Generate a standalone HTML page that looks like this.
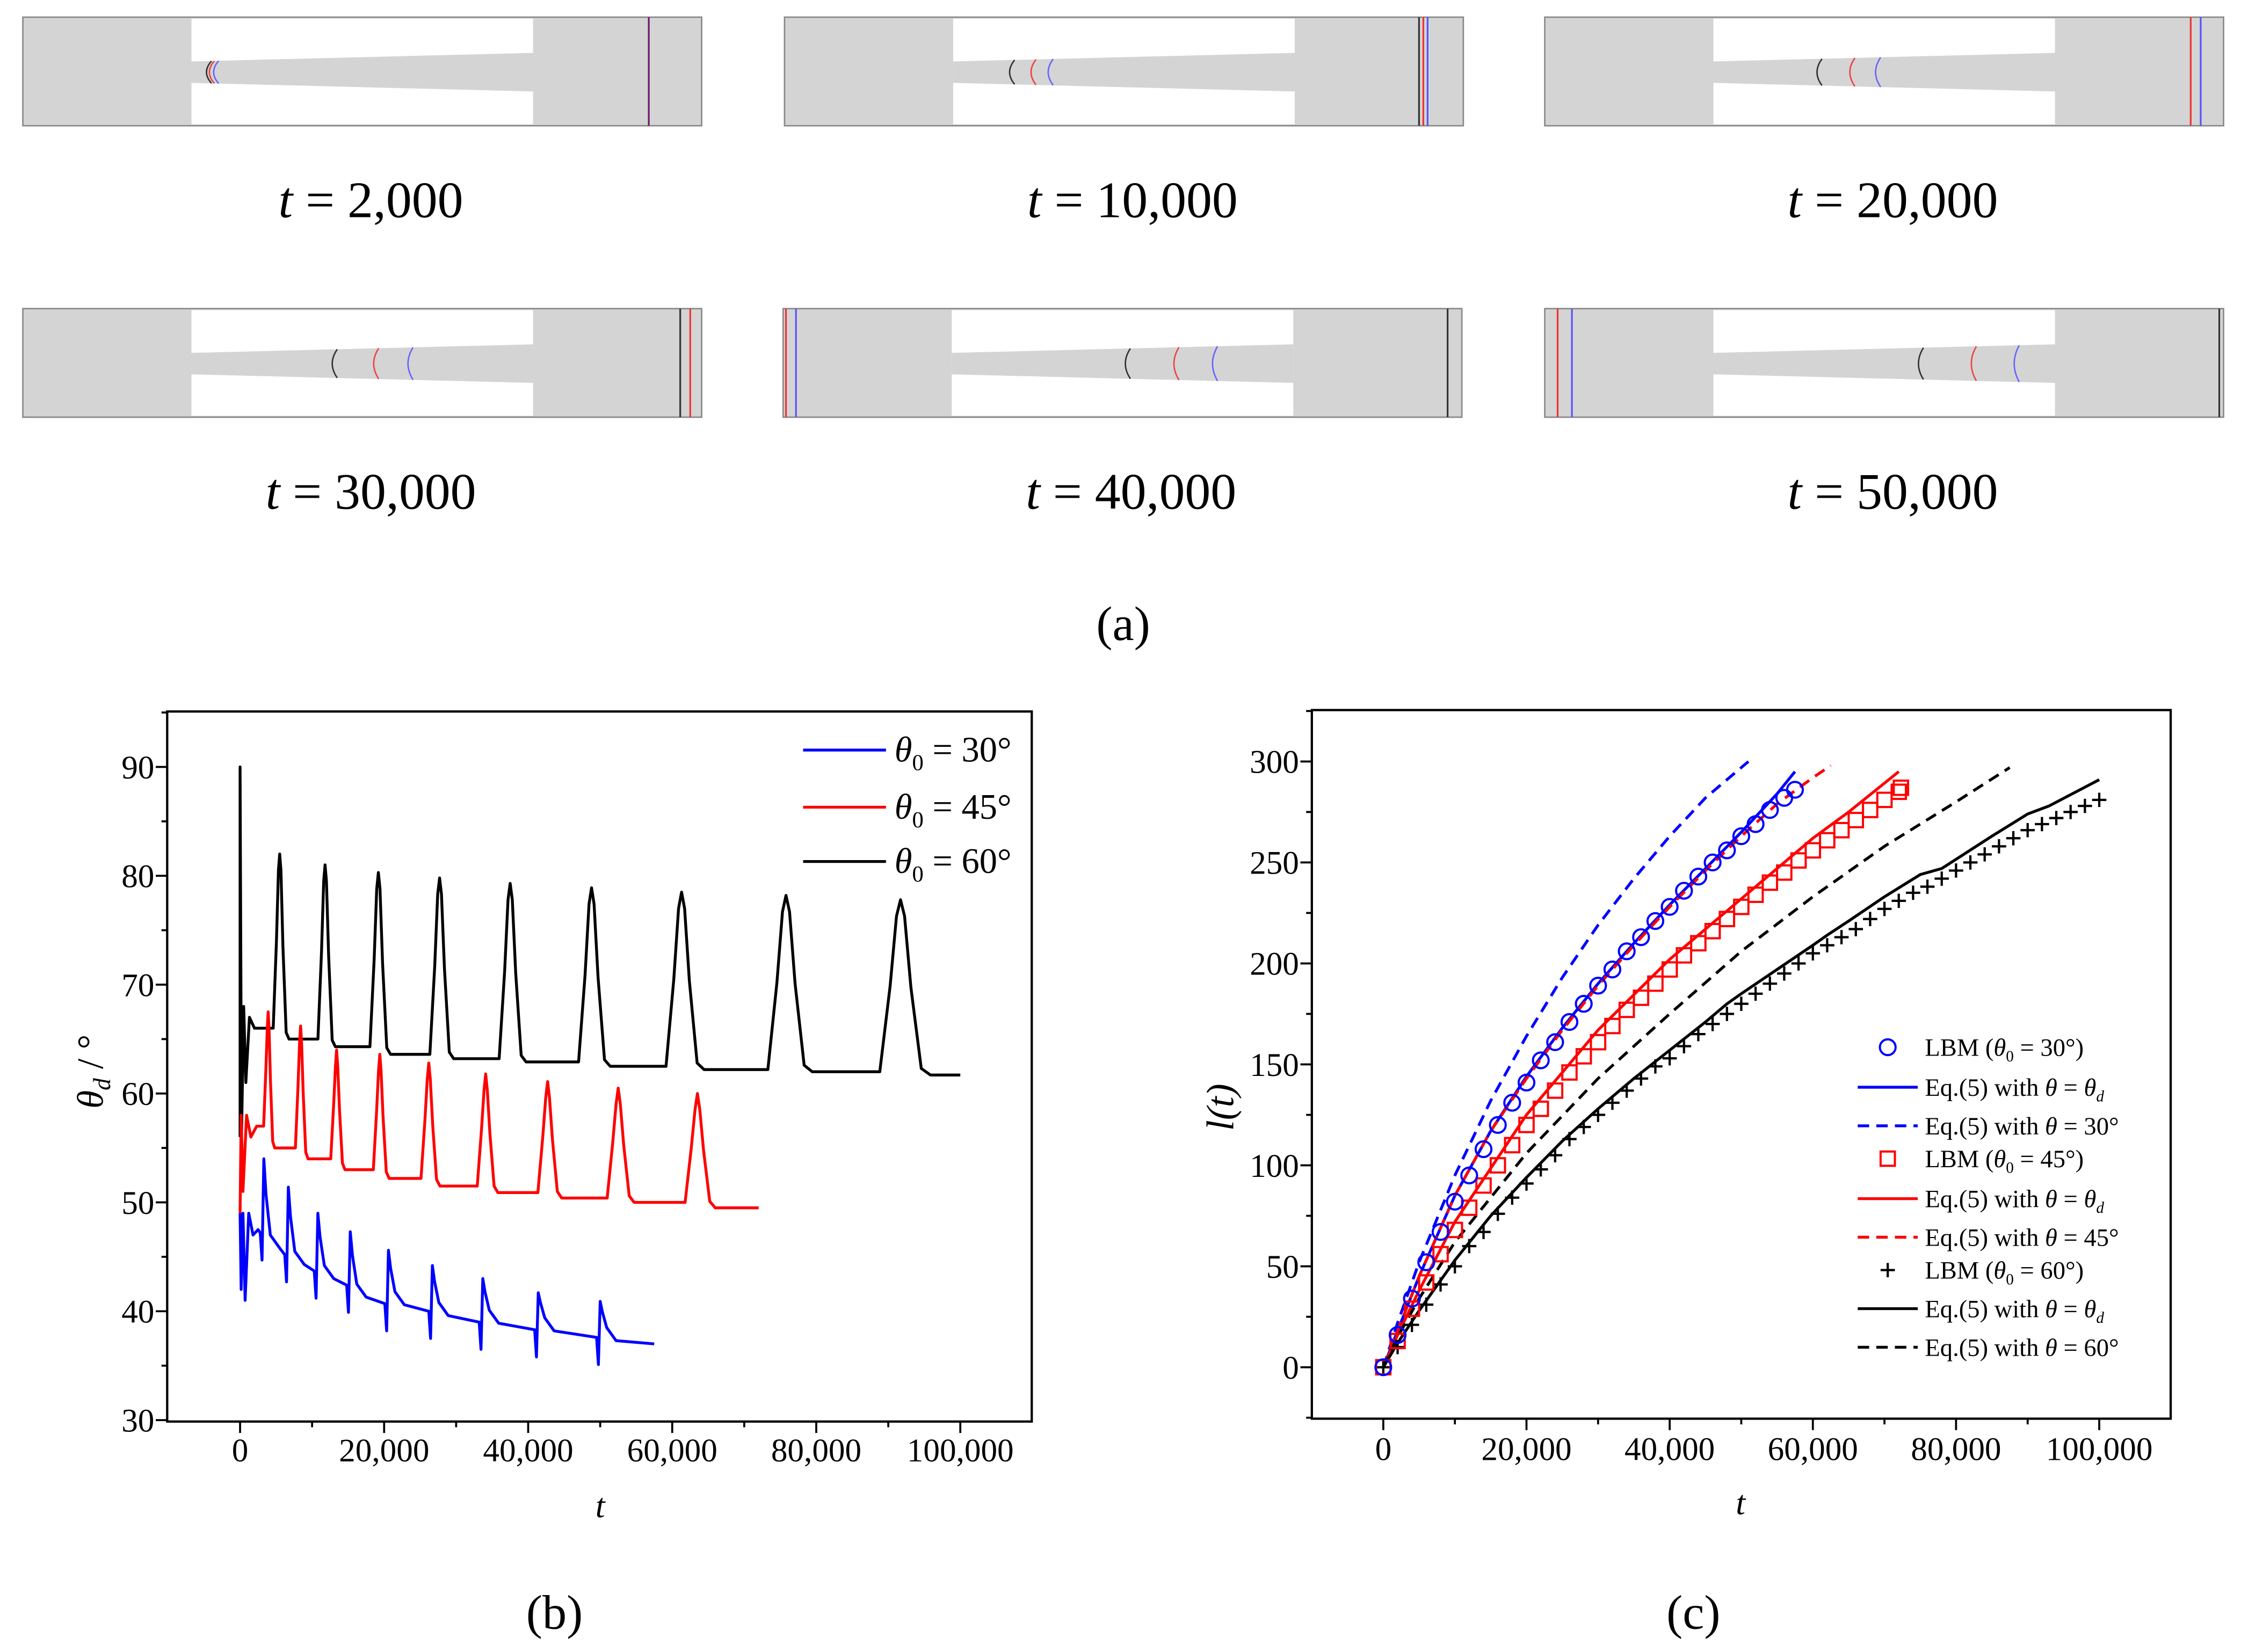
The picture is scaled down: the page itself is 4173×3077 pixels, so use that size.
<!DOCTYPE html>
<html><head><meta charset="utf-8"><style>
html,body{margin:0;padding:0;background:#fff;}
svg{display:block;font-family:"Liberation Serif",serif;}
</style></head><body>
<svg id="fig" width="4173" height="3077" viewBox="0 0 1568.2 1156.3" xmlns="http://www.w3.org/2000/svg">
<g id="panelA"></g>
<text x="786" y="448" font-size="34" text-anchor="middle">(a)</text>
<g id="chartB"></g>
<g id="chartC"></g>
</svg>
<script>
const NS="http://www.w3.org/2000/svg";
function mk(tag,attrs,parent,txt){const e=document.createElementNS(NS,tag);for(const k in attrs)e.setAttribute(k,attrs[k]);if(txt!==undefined)e.textContent=txt;parent.appendChild(e);return e;}

// ---------- Panel (a) data ----------
const snapTimes=["2,000","10,000","20,000","30,000","40,000","50,000"];
const snapBoxX=[16,549,1081,16,548,1081];
const snapBoxY=[12,12,12,216,216,216];
const arcBlack=[145,707,1272,233,788,1343];
const arcRed=[147,722,1295,262,822,1380];
const arcBlue=[150,734,1313,286,849,1410];
const lineSpecs=[[[454,"#6a1a6a"]],[[993,"#333"],[996,"#e33"],[999,"#55f"]],[[1533,"#e33"],[1540,"#55f"]],[[476,"#333"],[483,"#e33"]],[[550,"#e33"],[557,"#55f"],[1013,"#333"]],[[1090,"#e33"],[1100,"#55f"],[1553,"#333"]]];
const A=document.getElementById('panelA');
snapTimes.forEach((lab,i)=>{
  const x=snapBoxX[i],y=snapBoxY[i],W=475,H=76;
  const g=mk('g',{},A);
  
  
  mk('rect',{x:x,y:y,width:W,height:H,fill:'#d4d4d4',stroke:'#888','stroke-width':1},g);
  mk('rect',{x:x+118,y:y+1,width:239,height:H-2,fill:'#fff'},g);
  mk('polygon',{points:`${x+118},${y+31} ${x+357},${y+25} ${x+357},${y+52} ${x+118},${y+46}`,fill:'#d4d4d4'},g);
  const frac=(ax)=>{const r=(ax-x-118)/239;return [31-6*r,46+6*r];};
  [[arcBlack[i],'#333'],[arcRed[i],'#e44'],[arcBlue[i],'#66f']].forEach(([ax,c])=>{
    const [t,b]=frac(ax);mk('path',{d:`M${ax+3},${y+t} Q${ax-4},${y+(t+b)/2} ${ax+3},${y+b}`,fill:'none',stroke:c,'stroke-width':1},g);
  });
  lineSpecs[i].forEach(([lx,c])=>mk('line',{x1:lx,y1:y,x2:lx,y2:y+H,stroke:c,'stroke-width':1.2},g));
  const t=mk('text',{x:x+W/2+6,y:y+140,'font-size':36,'text-anchor':'middle'},g);
  
  
  mk('tspan',{'font-style':'italic'},t,'t');mk('tspan',{},t,' = '+lab);
});

// ---------- Chart (b) data ----------
const bXTicks=[0,20000,40000,60000,80000,100000];
const bXTickLabels=["0","20,000","40,000","60,000","80,000","100,000"];
const bYTicks=[30,40,50,60,70,80,90];
const blackSpikeT=[5500,11800,19200,27700,37500,48800,61300,75800,91700];
const blackSpikePeak=[82,81,80.3,79.8,79.3,78.9,78.5,78.2,77.8];
const blackSpikeW=[500,550,650,750,850,1000,1200,1400,1600];
const blackBase=[66,65,64.3,63.6,63.2,62.9,62.5,62.2,62.0];
const blackEnd=[100000,61.7];
const blackStart=[[0,56],[0,90],[200,56],[500,68],[800,61],[1300,67],[2000,66]];
const redSpikeT=[3900,8400,13400,19400,26200,34100,42700,52500,63500];
const redSpikePeak=[67.5,66.2,64,63.6,62.8,61.8,61.1,60.5,60];
const redSpikeW=[350,400,450,500,600,650,750,850,950];
const redBase=[57,55,54,53,52.2,51.5,50.9,50.4,50.0];
const redEnd=[72000,49.5];
const redStart=[[0,49],[150,58],[400,51],[900,58],[1500,56],[2300,57]];
const blueSpikeT=[3300,6700,10800,15300,20600,26700,33700,41400,50000];
const blueSpikePeak=[54,51.4,49,47.3,45.6,44.2,43,41.7,40.9];
const blueBase=[47.5,45.5,44,42.7,41,40.3,39.3,38.6,37.9];
const blueEnd=[57500,37];
const blueStart=[[0,49],[150,42],[400,49],[700,41],[1200,49],[1800,47],[2500,47.5]];

const xb=t=>168+t/20000*100.8, yb=v=>994-(v-30)*7.62;
const B=document.getElementById('chartB');
mk('rect',{x:117,y:498,width:605,height:497,fill:'none',stroke:'#000','stroke-width':1.6},B);
for(let t=0;t<=100000;t+=10000){const maj=t%20000===0;mk('line',{x1:xb(t),y1:995,x2:xb(t),y2:995+(maj?8:4),stroke:'#000','stroke-width':1.4},B);}
bXTicks.forEach((t,i)=>{const e=mk('text',{x:xb(t),y:1023,'font-size':23,'text-anchor':'middle'},B,bXTickLabels[i]);});
for(let v=30;v<=95;v+=5){const maj=v%10===0;mk('line',{x1:117,y1:yb(v),x2:117-(maj?8:4),y2:yb(v),stroke:'#000','stroke-width':1.4},B);}
bYTicks.forEach(v=>{const e=mk('text',{x:108,y:yb(v)+8,'font-size':23,'text-anchor':'end'},B,String(v));});
let e=mk('text',{x:420,y:1062,'font-size':24,'font-style':'italic','text-anchor':'middle'},B,'t');

e=mk('text',{transform:'translate(72,750) rotate(-90)','font-size':26,'text-anchor':'middle'},B);

mk('tspan',{'font-style':'italic'},e,'θ');mk('tspan',{'font-style':'italic','font-size':17,dy:5},e,'d');mk('tspan',{dy:-5},e,' / °');
e=mk('text',{x:388,y:1140,'font-size':34,'text-anchor':'middle'},B,'(b)');


function symPath(start,T,P,W,Base,end){
  const pts=start.slice();
  for(let i=0;i<T.length;i++){
    const nb=i+1<Base.length?Base[i+1]:end[1];
    pts.push([T[i]-W[i]*1.8,Base[i]]);pts.push([T[i]-W[i]*0.9,(Base[i]+P[i])/2]);pts.push([T[i]-W[i]*0.35,P[i]-1.5]);pts.push([T[i],P[i]]);
    pts.push([T[i]+W[i]*0.35,P[i]-1.5]);pts.push([T[i]+W[i]*0.9,(nb+P[i])/2]);pts.push([T[i]+W[i]*1.8,nb+0.6]);pts.push([T[i]+W[i]*2.6,nb]);
  }
  pts.push(end);
  return pts;
}
function bluePath(){
  const pts=blueStart.slice();
  for(let i=0;i<blueSpikeT.length;i++){
    const t=blueSpikeT[i],nb=i+1<blueBase.length?blueBase[i+1]:blueEnd[1];
    pts.push([t-500,blueBase[i]-0.3]);pts.push([t-250,blueBase[i]-2.8]);pts.push([t,blueSpikePeak[i]]);
    pts.push([t+300,(blueSpikePeak[i]+nb)/2+1]);pts.push([t+900,nb+1.5]);pts.push([t+2200,nb+0.3]);
  }
  pts.push(blueEnd);return pts;
}
const bSeries=[
  ['series-theta0-60','#000',symPath(blackStart,blackSpikeT,blackSpikePeak,blackSpikeW,blackBase,blackEnd)],
  ['series-theta0-45','#f00',symPath(redStart,redSpikeT,redSpikePeak,redSpikeW,redBase,redEnd)],
  ['series-theta0-30','#00f',bluePath()]];
bSeries.forEach(([nm,c,pts])=>{
  const p=mk('path',{d:'M'+pts.map(q=>xb(q[0]).toFixed(2)+','+yb(q[1]).toFixed(2)).join(' L'),fill:'none',stroke:c,'stroke-width':2,'stroke-linejoin':'round'},B);
  
});
const bLegLabels=["30°","45°","60°"],bLegColors=['#00f','#f00','#000'],bLegY=[525,565,603];
bLegLabels.forEach((l,i)=>{
  const g=mk('g',{},B);
  mk('line',{x1:562,y1:bLegY[i],x2:620,y2:bLegY[i],stroke:bLegColors[i],'stroke-width':2},g);
  const t=mk('text',{x:626,y:bLegY[i]+8,'font-size':25},g);
  mk('tspan',{'font-style':'italic'},t,'θ');mk('tspan',{'font-size':16,dy:6},t,'0');mk('tspan',{dy:-6},t,' = '+l);
});

// ---------- Chart (c) data ----------
const cXTicks=[0,20000,40000,60000,80000,100000];
const cXTickLabels=["0","20,000","40,000","60,000","80,000","100,000"];
const cYTicks=[0,50,100,150,200,250,300];
const lbm30T=[0,2000,4000,6000,8000,10000,12000,14000,16000,18000,20000,22000,24000,26000,28000,30000,32000,34000,36000,38000,40000,42000,44000,46000,48000,50000,52000,54000,56000,57500];
const lbm30L=[0,16,34,52,67,82,95,108,120,131,141,152,161,171,180,189,197,206,213,221,228,236,243,250,256,263,269,276,282,286];
const eq30dT=[0,2000,5000,10000,15000,20000,25000,30000,35000,40000,45000,50000,55000,57500];
const eq30dL=[0,18,45,85,117,144,168,190,210,229,247,265,284,295];
const eq30T=[0,2000,5000,10000,15000,20000,25000,30000,35000,40000,45000,51000];
const eq30L=[0,22,52,95,132,164,193,219,242,263,282,300];
const lbm45T=[0,2000,4000,6000,8000,10000,12000,14000,16000,18000,20000,22000,24000,26000,28000,30000,32000,34000,36000,38000,40000,42000,44000,46000,48000,50000,52000,54000,56000,58000,60000,62000,64000,66000,68000,70000,72000,72300];
const lbm45L=[0,13,29,42,56,68,79,90,100,110,120,128,137,146,154,161,169,177,183,190,197,204,210,216,222,228,234,240,245,251,256,261,266,271,276,281,285,287];
const eq45dT=[0,2000,5000,10000,20000,30000,40000,50000,60000,65000,72000];
const eq45dL=[0,16,38,72,125,167,202,232,262,275,295];
const eq45T=[0,2000,5000,10000,15000,20000,25000,30000,35000,40000,45000,50000,55000,60000,62500];
const eq45L=[0,18,45,85,117,143,167,189,209,228,246,263,279,292,298];
const lbm60T=[0,2000,4000,6000,8000,10000,12000,14000,16000,18000,20000,22000,24000,26000,28000,30000,32000,34000,36000,38000,40000,42000,44000,46000,48000,50000,52000,54000,56000,58000,60000,62000,64000,66000,68000,70000,72000,74000,76000,78000,80000,82000,84000,86000,88000,90000,92000,94000,96000,98000,100000];
const lbm60L=[0,10,21,31,41,50,60,67,76,84,91,98,105,113,119,125,131,137,143,149,153,159,165,170,175,180,185,190,195,200,205,209,213,217,222,227,231,235,238,242,246,250,254,258,262,266,269,272,275,278,281];
const eq60dT=[0,2000,5000,10000,15000,20000,25000,30000,35000,40000,45000,48000,50000,55000,60000,62000,65000,70000,75000,78000,85000,90000,93000,100000];
const eq60dL=[0,12,28,53,75,94,112,128,143,157,171,180,185,197,209,214,221,233,244,247,263,274,278,291];
const eq60T=[0,2000,5000,10000,20000,30000,40000,50000,60000,70000,80000,87500];
const eq60L=[0,15,34,62,106,143,175,206,233,258,280,297];

const xc=t=>968+t/20000*100.2, yc=v=>957-v*1.4133;
const C=document.getElementById('chartC');
mk('rect',{x:918,y:497,width:601,height:496,fill:'none',stroke:'#000','stroke-width':1.6},C);
for(let t=0;t<=100000;t+=10000){const maj=t%20000===0;mk('line',{x1:xc(t),y1:993,x2:xc(t),y2:993+(maj?8:4),stroke:'#000','stroke-width':1.4},C);}
cXTicks.forEach((t,i)=>{const e=mk('text',{x:xc(t),y:1022,'font-size':23,'text-anchor':'middle'},C,cXTickLabels[i]);});
for(let v=-25;v<=325;v+=25){const maj=v%50===0;mk('line',{x1:918,y1:yc(v),x2:918-(maj?8:4),y2:yc(v),stroke:'#000','stroke-width':1.4},C);}
cYTicks.forEach(v=>{const e=mk('text',{x:909,y:yc(v)+8,'font-size':23,'text-anchor':'end'},C,String(v));});
e=mk('text',{x:1218,y:1060,'font-size':24,'font-style':'italic','text-anchor':'middle'},C,'t');

e=mk('text',{transform:'translate(863,775) rotate(-90)','font-size':27,'font-style':'italic','text-anchor':'middle'},C,'l(t)');

e=mk('text',{x:1185,y:1140,'font-size':34,'text-anchor':'middle'},C,'(c)');


function line(T,L,c,dash,nm){
  const a={d:'M'+T.map((t,i)=>xc(t).toFixed(2)+','+yc(L[i]).toFixed(2)).join(' L'),fill:'none',stroke:c,'stroke-width':2};
  if(dash)a['stroke-dasharray']='8 5';
  const p=mk('path',a,C);
}
line(eq30T,eq30L,'#00f',true,'eq5-theta30-line');
line(eq30dT,eq30dL,'#00f',false,'eq5-thetad-30-line');
line(eq45T,eq45L,'#f00',true,'eq5-theta45-line');
line(eq45dT,eq45dL,'#f00',false,'eq5-thetad-45-line');
line(eq60T,eq60L,'#000',true,'eq5-theta60-line');
line(eq60dT,eq60dL,'#000',false,'eq5-thetad-60-line');
lbm60T.forEach((t,i)=>{const x=xc(t),y=yc(lbm60L[i]);const p=mk('path',{d:`M${x-5},${y} H${x+5} M${x},${y-5} V${y+5}`,stroke:'#000','stroke-width':1.6,fill:'none'},C);});
lbm45T.forEach((t,i)=>{const x=xc(t),y=yc(lbm45L[i]);const p=mk('rect',{x:x-5,y:y-5,width:10,height:10,stroke:'#f00','stroke-width':1.5,fill:'none'},C);});
lbm30T.forEach((t,i)=>{const p=mk('circle',{cx:xc(t),cy:yc(lbm30L[i]),r:5.5,stroke:'#00f','stroke-width':1.5,fill:'none'},C);});

const cLegY=[733,761,788,811,839,866,889,916,943];
const cLegKind=['o','s','d','q','s','d','p','s','d'];
const cLegColor=['#00f','#00f','#00f','#f00','#f00','#f00','#000','#000','#000'];
const cLegText=[['LBM (','30°)'],['Eq.(5) with ','d'],['Eq.(5) with ','30°'],['LBM (','45°)'],['Eq.(5) with ','d'],['Eq.(5) with ','45°'],['LBM (','60°)'],['Eq.(5) with ','d'],['Eq.(5) with ','60°']];
cLegY.forEach((y,i)=>{
  const g=mk('g',{},C);
  const k=cLegKind[i],c=cLegColor[i];
  if(k==='o')mk('circle',{cx:1321,cy:y,r:5.5,stroke:c,'stroke-width':1.5,fill:'none'},g);
  else if(k==='q')mk('rect',{x:1316,y:y-5,width:10,height:10,stroke:c,'stroke-width':1.5,fill:'none'},g);
  else if(k==='p')mk('path',{d:`M${1316},${y} H${1326} M1321,${y-5} V${y+5}`,stroke:c,'stroke-width':1.6},g);
  else {const a={x1:1300,y1:y,x2:1342,y2:y,stroke:c,'stroke-width':2};if(k==='d')a['stroke-dasharray']='8 5';mk('line',a,g);}
  const t=mk('text',{x:1347,y:y+6,'font-size':17.5},g);
  const [pre,post]=cLegText[i];
  mk('tspan',{},t,pre);
  if(pre.startsWith('LBM')){mk('tspan',{'font-style':'italic'},t,'θ');mk('tspan',{'font-size':11,dy:4},t,'0');mk('tspan',{dy:-4},t,' = '+post);}
  else if(post==='d'){mk('tspan',{'font-style':'italic'},t,'θ');mk('tspan',{},t,' = ');mk('tspan',{'font-style':'italic'},t,'θ');mk('tspan',{'font-size':11,'font-style':'italic',dy:4},t,'d');}
  else {mk('tspan',{'font-style':'italic'},t,'θ');mk('tspan',{},t,' = '+post);}
});
</script>
</body></html>
